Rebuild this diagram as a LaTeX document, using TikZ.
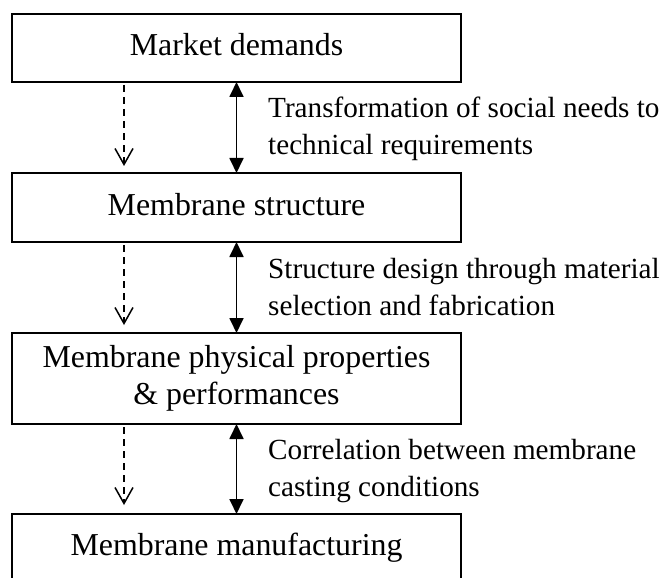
\documentclass[tikz,border=0pt]{standalone}
\usepackage{fontspec}
\setmainfont{Liberation Serif}
\usetikzlibrary{arrows.meta}
\tikzset{
  box/.style={draw, line width=2bp, minimum width=449bp, inner sep=0pt, outer sep=0pt,
    font=\fontsize{32}{37}\selectfont, align=center},
  onebox/.style={box, text height=22bp, text depth=7bp},
  lbl/.style={anchor=west, inner sep=0pt, align=left, font=\fontsize{29.3}{37}\selectfont},
  biarrow/.style={line width=1.8bp, {Triangle[length=15bp,width=14bp]}-{Triangle[length=15bp,width=14bp]}},
  flowarrow/.style={line width=1.5bp, dash pattern=on 7bp off 5bp, -{Straight Barb[length=16bp,width=18bp,line width=1.5bp]}}
}
\begin{document}
\begin{tikzpicture}[x=1bp,y=-1bp]
\useasboundingbox (0,0) rectangle (668,578);
\fill[white] (0,0) rectangle (668,578);
\clip (0,0) rectangle (668,578);

\node[onebox, minimum height=68bp] (m1) at (236.5,48) {Market demands};
\node[onebox, minimum height=69bp] (m2) at (236.5,207.5) {Membrane structure};
\node[box, minimum height=91bp] (m3) at (236.5,378.5) {Membrane physical properties\\\& performances};
\node[onebox, minimum height=68bp] (m4) at (236.5,548) {Membrane manufacturing};

\draw[biarrow] (m1.south) -- (m2.north);
\draw[biarrow] (m2.south) -- (m3.north);
\draw[biarrow] (m3.south) -- (m4.north);

\draw[flowarrow] ([xshift=-112.5bp,yshift=-3bp]m1.south) -- ([xshift=-112.5bp,yshift=7bp]m2.north);
\draw[flowarrow] ([xshift=-112.5bp,yshift=-3bp]m2.south) -- ([xshift=-112.5bp,yshift=8bp]m3.north);
\draw[flowarrow] ([xshift=-112.5bp,yshift=-3bp]m3.south) -- ([xshift=-112.5bp,yshift=9bp]m4.north);

\node[lbl] (l1) at (268,129) {Transformation of social needs to\\technical requirements};
\node[lbl] (l2) at (268,287) {Structure design through material\\selection and fabrication};
\node[lbl] (l3) at (268,471) {Correlation between membrane\\casting conditions};
\end{tikzpicture}
\end{document}
